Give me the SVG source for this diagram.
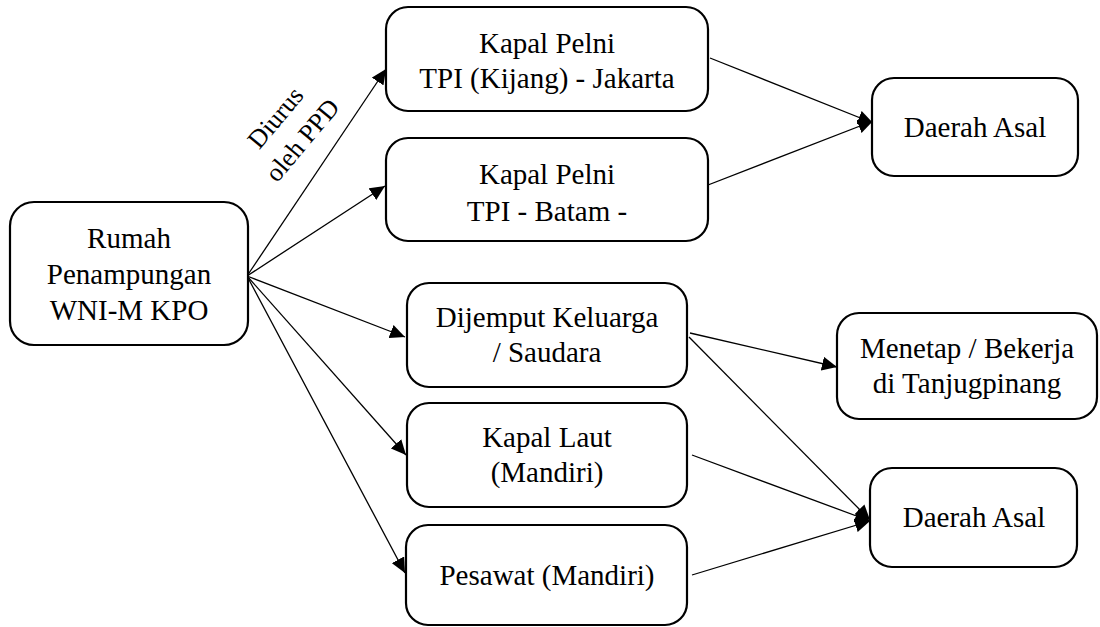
<svg xmlns="http://www.w3.org/2000/svg" width="1100" height="627" viewBox="0 0 1100 627">
<style>
.box{fill:#fff;stroke:#000;stroke-width:2.2}
.t{font-size:29px;fill:#000;text-anchor:middle}
.lbl{font-size:26px;fill:#000;text-anchor:middle}
.c{stroke:#000;stroke-width:1.3;fill:none;marker-end:url(#ah)}
</style>
<defs>
<marker id="ah" markerUnits="userSpaceOnUse" markerWidth="16" markerHeight="14" refX="15" refY="7" orient="auto">
<path d="M0,0 L15,7 L0,14 z" fill="#000"/>
</marker>
</defs>
<rect width="1100" height="627" fill="#fff"/>
<g font-family="Liberation Serif, Times New Roman, DejaVu Serif, Noto Serif, serif">
<g id="connectors">
<line class="c" x1="247" y1="276" x2="386" y2="69"/>
<line class="c" x1="247" y1="276" x2="385" y2="186"/>
<line class="c" x1="247" y1="276" x2="405" y2="337"/>
<line class="c" x1="247" y1="276" x2="406" y2="455"/>
<line class="c" x1="247" y1="276" x2="405" y2="573"/>
<line class="c" x1="710" y1="58" x2="873" y2="123"/>
<line class="c" x1="708" y1="185" x2="873" y2="121"/>
<line class="c" x1="690" y1="333" x2="837" y2="367"/>
<line class="c" x1="689" y1="337" x2="870" y2="520"/>
<line class="c" x1="692" y1="455" x2="870" y2="521"/>
<line class="c" x1="692" y1="575" x2="870" y2="521"/>
<g transform="translate(289,129) rotate(-50)">
<text class="lbl" x="0" y="-9">Diurus</text>
<text class="lbl" x="0" y="26">oleh PPD</text>
</g>
</g>
<g id="rumah">
<rect class="box" x="10" y="202" width="238" height="143" rx="24"/>
<text class="t" x="129" y="248">Rumah</text>
<text class="t" x="129" y="284">Penampungan</text>
<text class="t" x="129" y="320">WNI-M KPO</text>
</g>
<g id="kapal-pelni-jakarta">
<rect class="box" x="386" y="7" width="322" height="104" rx="22"/>
<text class="t" x="547" y="53">Kapal Pelni</text>
<text class="t" x="547" y="88">TPI (Kijang) - Jakarta</text>
</g>
<g id="kapal-pelni-batam">
<rect class="box" x="386" y="138" width="322" height="103" rx="22"/>
<text class="t" x="547" y="184">Kapal Pelni</text>
<text class="t" x="547" y="221">TPI - Batam -</text>
</g>
<g id="daerah-asal-1">
<rect class="box" x="872" y="78" width="206" height="98" rx="22"/>
<text class="t" x="975" y="137">Daerah Asal</text>
</g>
<g id="dijemput">
<rect class="box" x="407" y="283" width="280" height="104" rx="22"/>
<text class="t" x="547" y="327">Dijemput Keluarga</text>
<text class="t" x="547" y="362">/ Saudara</text>
</g>
<g id="kapal-laut">
<rect class="box" x="407" y="403" width="280" height="104" rx="22"/>
<text class="t" x="547" y="447">Kapal Laut</text>
<text class="t" x="547" y="482">(Mandiri)</text>
</g>
<g id="pesawat">
<rect class="box" x="406" y="525" width="281" height="100" rx="22"/>
<text class="t" x="547" y="585">Pesawat (Mandiri)</text>
</g>
<g id="menetap">
<rect class="box" x="837" y="313" width="260" height="106" rx="22"/>
<text class="t" x="967" y="358">Menetap / Bekerja</text>
<text class="t" x="967" y="393">di Tanjugpinang</text>
</g>
<g id="daerah-asal-2">
<rect class="box" x="870" y="468" width="207" height="99" rx="22"/>
<text class="t" x="974" y="527">Daerah Asal</text>
</g>
</g>
</svg>
